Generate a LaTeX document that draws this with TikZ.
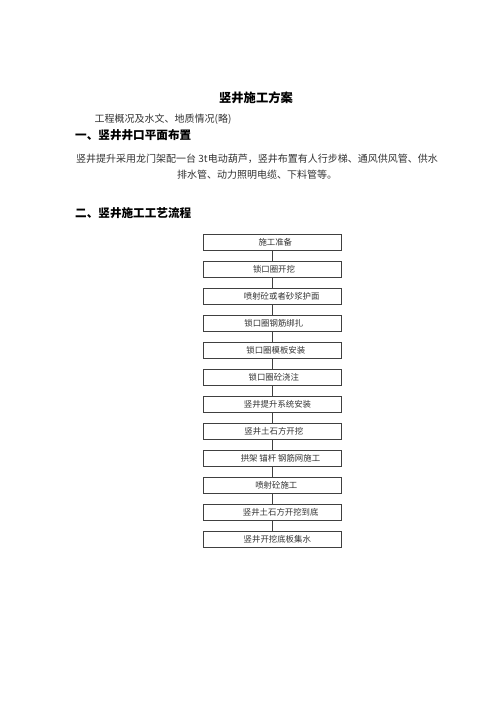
\documentclass[tikz,border=0pt]{standalone}
\usepackage{fontspec}
\setmainfont{Noto Sans CJK SC}
\begin{document}
\begin{tikzpicture}[x=1pt,y=-1pt,
  stepbox/.style={draw=black!75, line width=0.6pt, minimum width=137.5pt, minimum height=16.5pt, inner sep=0pt},
  steptext/.style={inner sep=0pt, font=\fontsize{8.4}{10}\selectfont, text=black!80},
  link/.style={draw=black!75, line width=0.6pt},
  body/.style={font=\fontsize{10}{12}\selectfont, text=black!80, inner sep=0pt},
  head/.style={font=\fontsize{11.6}{14}\bfseries\selectfont, inner sep=0pt},
  ttl/.style={font=\fontsize{12.3}{14}\bfseries\selectfont, inner sep=0pt}]
\useasboundingbox (0,0) rectangle (496,702);
\fill[white] (0,0) rectangle (496,702);
\node[ttl] (title) at (256,98) {竖井施工方案};
\node[body, anchor=west] (intro) at (94.5,119) {工程概况及水文、地质情况(略)};
\node[head, anchor=west] (h1) at (75,135) {一、竖井井口平面布置};
\node[body, anchor=west] (p1) at (76,159) {竖井提升采用龙门架配一台 3t电动葫芦，竖井布置有人行步梯、通风供风管、供水};
\node[body] (p2) at (257,175) {排水管、动力照明电缆、下料管等。};
\node[head, anchor=west] (h2) at (75,213) {二、竖井施工工艺流程};
\foreach \i/\dx/\t in {1/3/施工准备,2/1.7/锁口圈开挖,3/9.4/喷射砼或者砂浆护面,4/1.5/锁口圈钢筋绑扎,5/3.5/锁口圈模板安装,6/1.5/锁口圈砼浇注,7/5.2/竖井提升系统安装,8/1.5/竖井土石方开挖,9/8.2/拱架 锚杆 钢筋网施工,10/4/喷射砼施工,11/8.4/竖井土石方开挖到底,12/5/竖井开挖底板集水}{
  \node[stepbox] (s\i) at (272.3,{242.3+27*(\i-1)}) {};
  \node[steptext] (t\i) at ([xshift=\dx pt]s\i.center) {\t};
}
\foreach \i [evaluate=\i as \j using int(\i+1)] in {1,...,11}{
  \draw[link] (s\i.south) -- (s\j.north);
}
\end{tikzpicture}
\end{document}
